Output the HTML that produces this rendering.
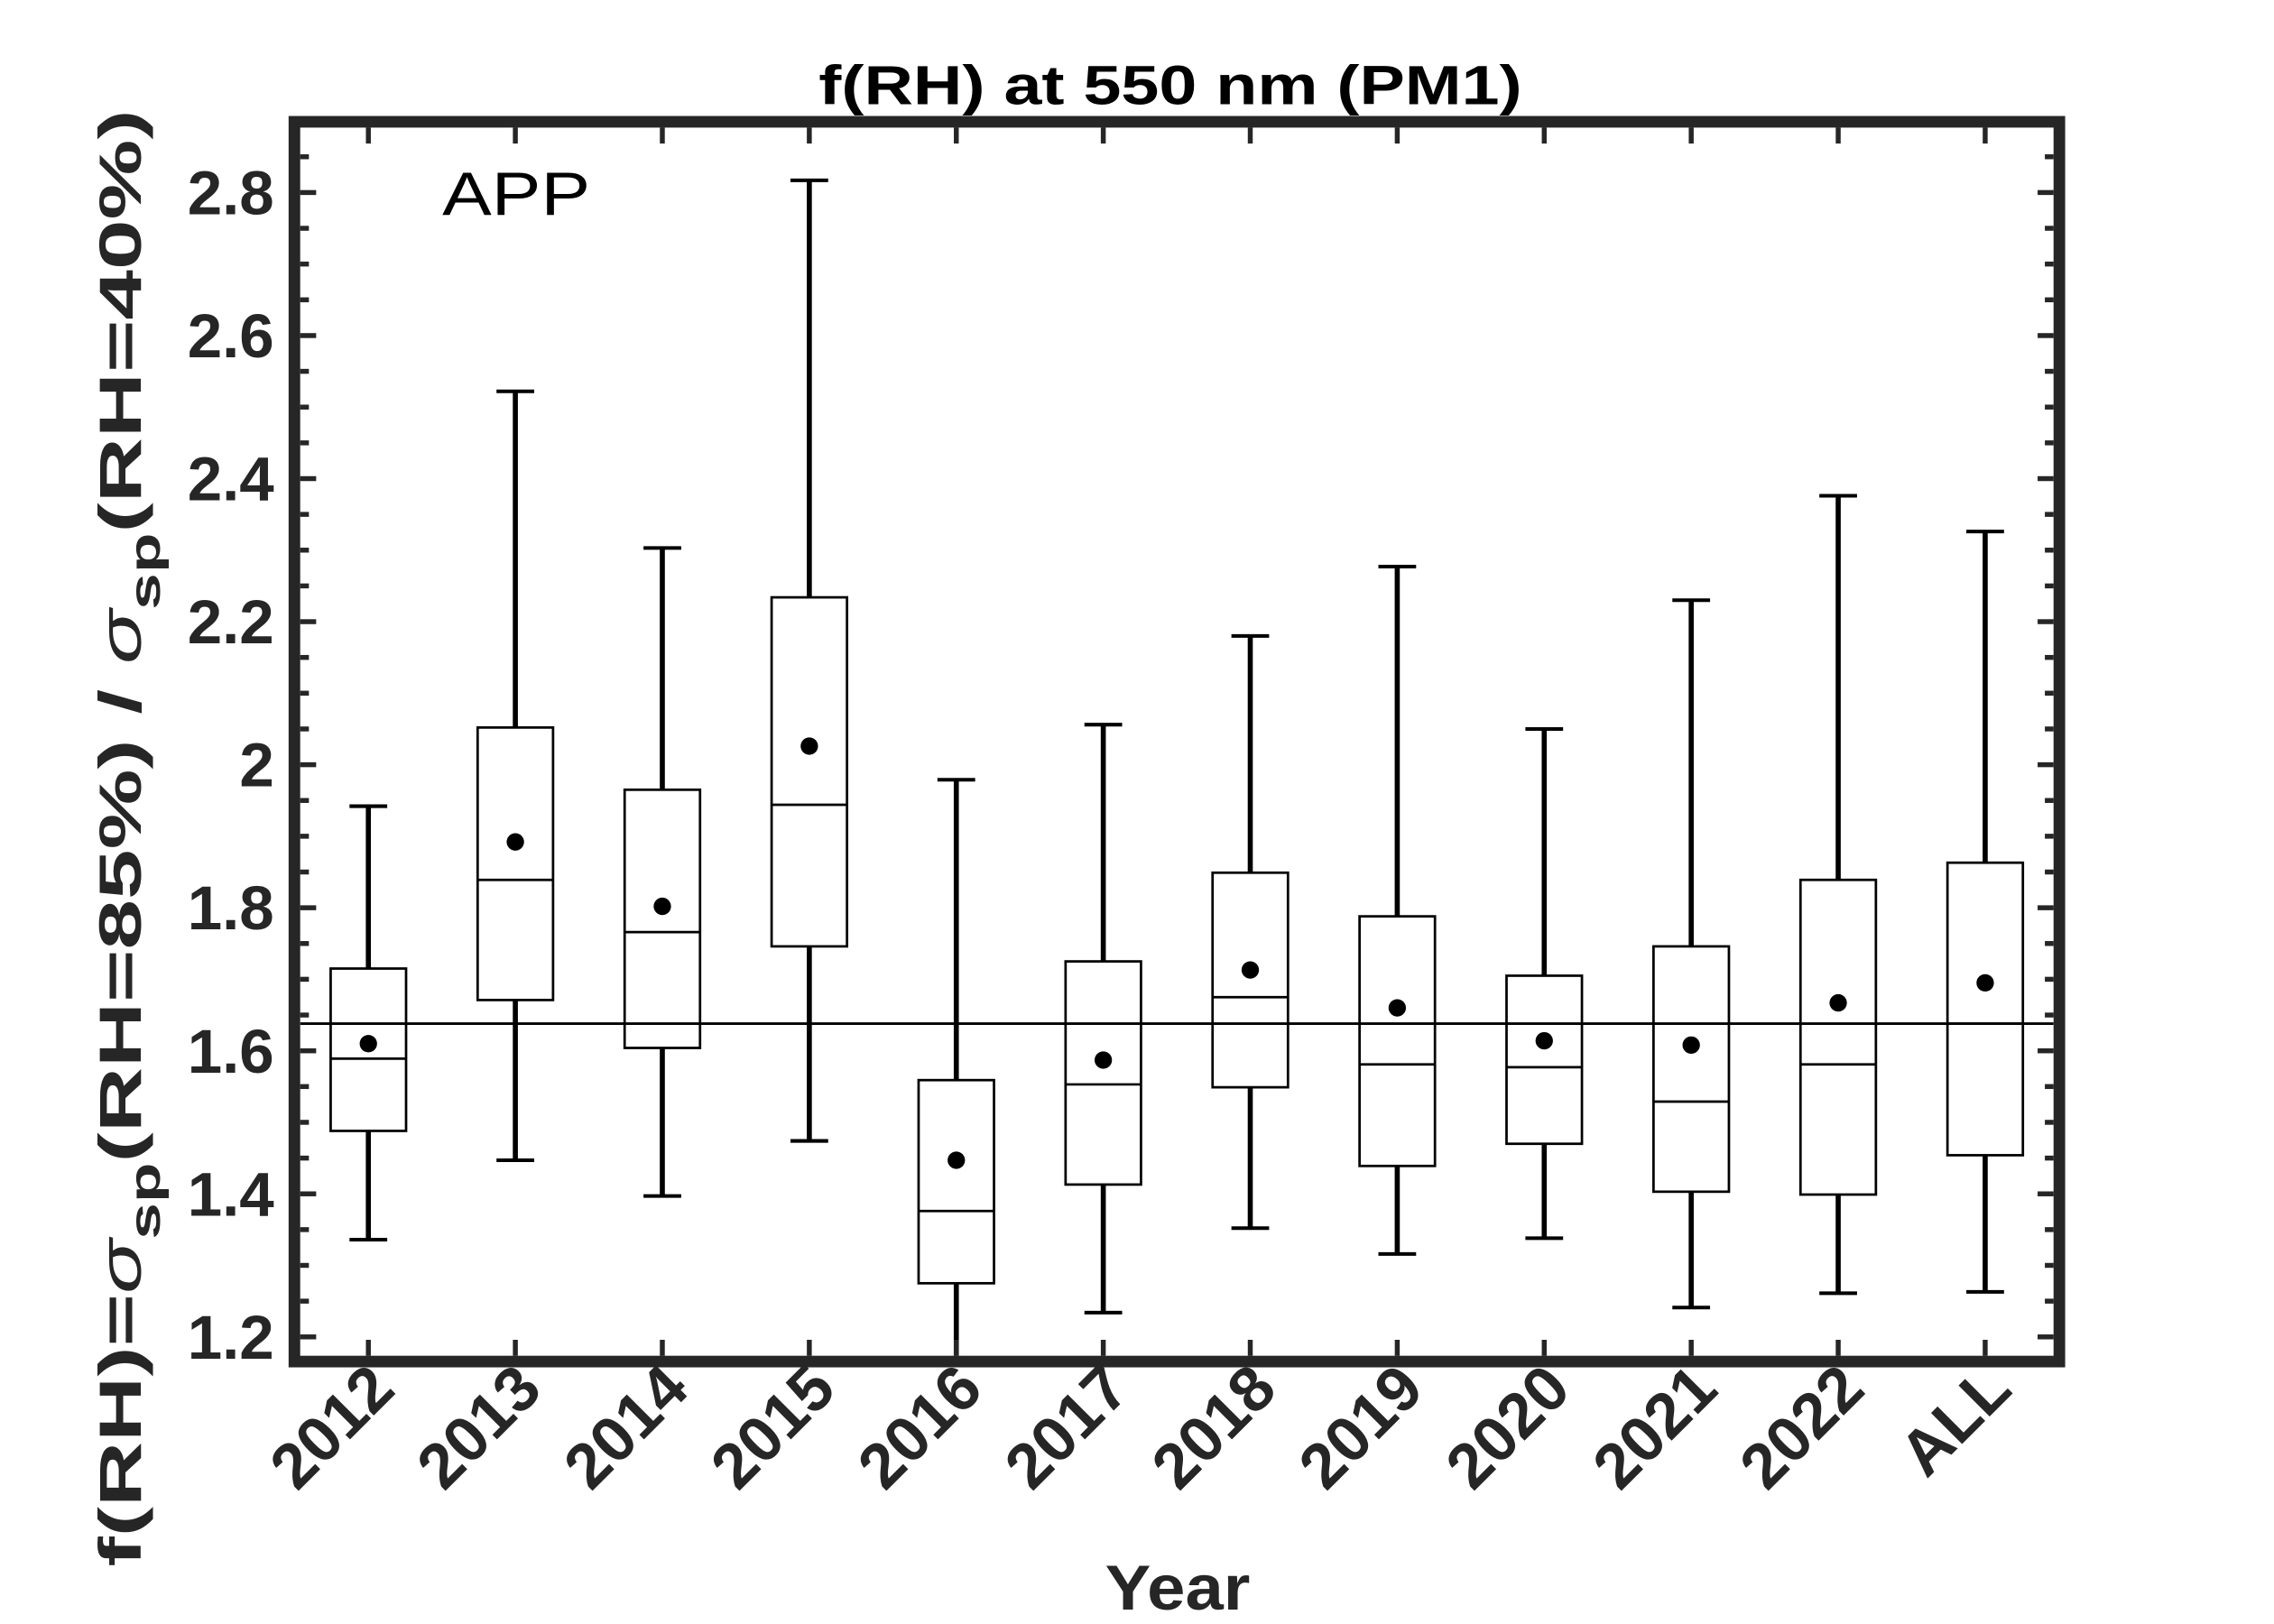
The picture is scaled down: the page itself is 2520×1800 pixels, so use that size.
<!DOCTYPE html>
<html><head><meta charset="utf-8"><style>
html,body{margin:0;padding:0;background:#fff;}
svg{display:block;}
text{font-family:"Liberation Sans",sans-serif;}
</style></head><body>
<svg id="chart" width="2520" height="1800" viewBox="0 0 1568 1120" xmlns="http://www.w3.org/2000/svg">
<rect x="0" y="0" width="1568" height="1120" fill="#fff"/>
<text x="807" y="72" text-anchor="middle" font-weight="bold" font-size="38" textLength="485" lengthAdjust="spacingAndGlyphs" fill="#000">f(RH) at 550 nm (PM1)</text>
<g id="plot"></g>
<text x="305" y="148" font-size="42" textLength="102" lengthAdjust="spacingAndGlyphs" fill="#000">APP</text>
<text x="812" y="1110" text-anchor="middle" font-weight="bold" font-size="44" textLength="100" lengthAdjust="spacingAndGlyphs" fill="#262626">Year</text>
<text transform="translate(97,578) rotate(-90)" text-anchor="middle" font-weight="bold" font-size="41" fill="#262626" textLength="1005" lengthAdjust="spacingAndGlyphs">f(RH)=<tspan font-style="italic" font-weight="normal">σ</tspan><tspan dy="13" font-size="30">sp</tspan><tspan dy="-13">(RH=85%) / </tspan><tspan font-style="italic" font-weight="normal">σ</tspan><tspan dy="13" font-size="30">sp</tspan><tspan dy="-13">(RH=40%)</tspan></text>
</svg>
<script>
const categories = ["2012","2013","2014","2015","2016","2017","2018","2019","2020","2021","2022","ALL"];
const whiskerHigh = [1.942,2.522,2.303,2.817,1.979,2.056,2.180,2.277,2.050,2.230,2.376,2.326];
const q3 = [1.715,2.052,1.965,2.234,1.559,1.725,1.849,1.788,1.705,1.746,1.839,1.863];
const medians = [1.589,1.839,1.766,1.944,1.376,1.553,1.675,1.581,1.577,1.529,1.581,1.638];
const q1 = [1.488,1.671,1.604,1.746,1.275,1.413,1.549,1.439,1.470,1.403,1.399,1.454];
const whiskerLow = [1.336,1.447,1.397,1.474,1.150,1.234,1.352,1.316,1.338,1.241,1.261,1.263];
const means = [1.610,1.892,1.802,2.026,1.447,1.587,1.713,1.660,1.614,1.608,1.667,1.695];
const refLine = 1.638;
const yTicks = [1.2,1.4,1.6,1.8,2.0,2.2,2.4,2.6,2.8];
const yTickLabels = ["1.2","1.4","1.6","1.8","2","2.2","2.4","2.6","2.8"];

const L=207,R=1416,T=88,B=935;
const yMin=1.1635, yMax=2.907;
function y(v){return 940-(v-yMin)/(yMax-yMin)*(940-80);}
function x(i){return 254+101.35*i;}
const NS="http://www.w3.org/2000/svg";
const plot=document.getElementById('plot');
function mk(tag,attrs,parent){const e=document.createElementNS(NS,tag);for(const k in attrs)e.setAttribute(k,attrs[k]);(parent||plot).appendChild(e);return e;}

const defs=mk('defs',{});
const cp=mk('clipPath',{id:'clip'},defs);
mk('rect',{x:L,y:T,width:R-L,height:B-T},cp);
const g=mk('g',{'clip-path':'url(#clip)'});



const rl=mk('line',{x1:L,x2:R,y1:y(refLine),y2:y(refLine),stroke:'#000','stroke-width':1.8},g);



categories.forEach((c,i)=>{
  const cx=x(i), hw=26, cw=13;
  const bg=mk('g',{},g);
  
  
  mk('line',{x1:cx,x2:cx,y1:y(q3[i]),y2:y(whiskerHigh[i]),stroke:'#000','stroke-width':3.5},bg);
  mk('line',{x1:cx-cw,x2:cx+cw,y1:y(whiskerHigh[i]),y2:y(whiskerHigh[i]),stroke:'#000','stroke-width':2.5},bg);
  mk('line',{x1:cx,x2:cx,y1:y(q1[i]),y2:y(whiskerLow[i]),stroke:'#000','stroke-width':3.5},bg);
  mk('line',{x1:cx-cw,x2:cx+cw,y1:y(whiskerLow[i]),y2:y(whiskerLow[i]),stroke:'#000','stroke-width':2.5},bg);
  mk('rect',{x:cx-hw,y:y(q3[i]),width:2*hw,height:y(q1[i])-y(q3[i]),fill:'none',stroke:'#000','stroke-width':1.7},bg);
  mk('line',{x1:cx-hw,x2:cx+hw,y1:y(medians[i]),y2:y(medians[i]),stroke:'#000','stroke-width':1.7},bg);
  const d=mk('circle',{cx:cx,cy:y(means[i]),r:6,fill:'#000'},bg);
  
  
});

const ax=mk('g',{fill:'#262626'});


for(let k=0;k<=40;k++){
  const v=1.2+k*0.05; if(v>yMax) break;
  const major=(k%4===0), len=major?11:6, yy=y(v);
  mk('rect',{x:L,y:yy-1.7,width:len,height:3.4},ax);
  mk('rect',{x:R-len,y:yy-1.7,width:len,height:3.4},ax);
}
categories.forEach((c,i)=>{
  mk('rect',{x:x(i)-1.7,y:B-11,width:3.4,height:11},ax);
  mk('rect',{x:x(i)-1.7,y:T,width:3.4,height:11},ax);
});
mk('rect',{x:L-4,y:T-4,width:R-L+8,height:B-T+8,fill:'none',stroke:'#262626','stroke-width':8},ax);

yTicks.forEach((v,i)=>{
  const t=mk('text',{x:189,y:y(v)+15,'text-anchor':'end','font-weight':'bold','font-size':43,fill:'#262626'});
  t.textContent=yTickLabels[i];
  
  
});
categories.forEach((c,i)=>{
  const t=mk('text',{transform:'translate('+(x(i)+20)+',960) rotate(-45)','text-anchor':'end','font-weight':'bold','font-size':44,fill:'#262626'});
  t.textContent=c;
  
  
});
</script>
</body></html>
